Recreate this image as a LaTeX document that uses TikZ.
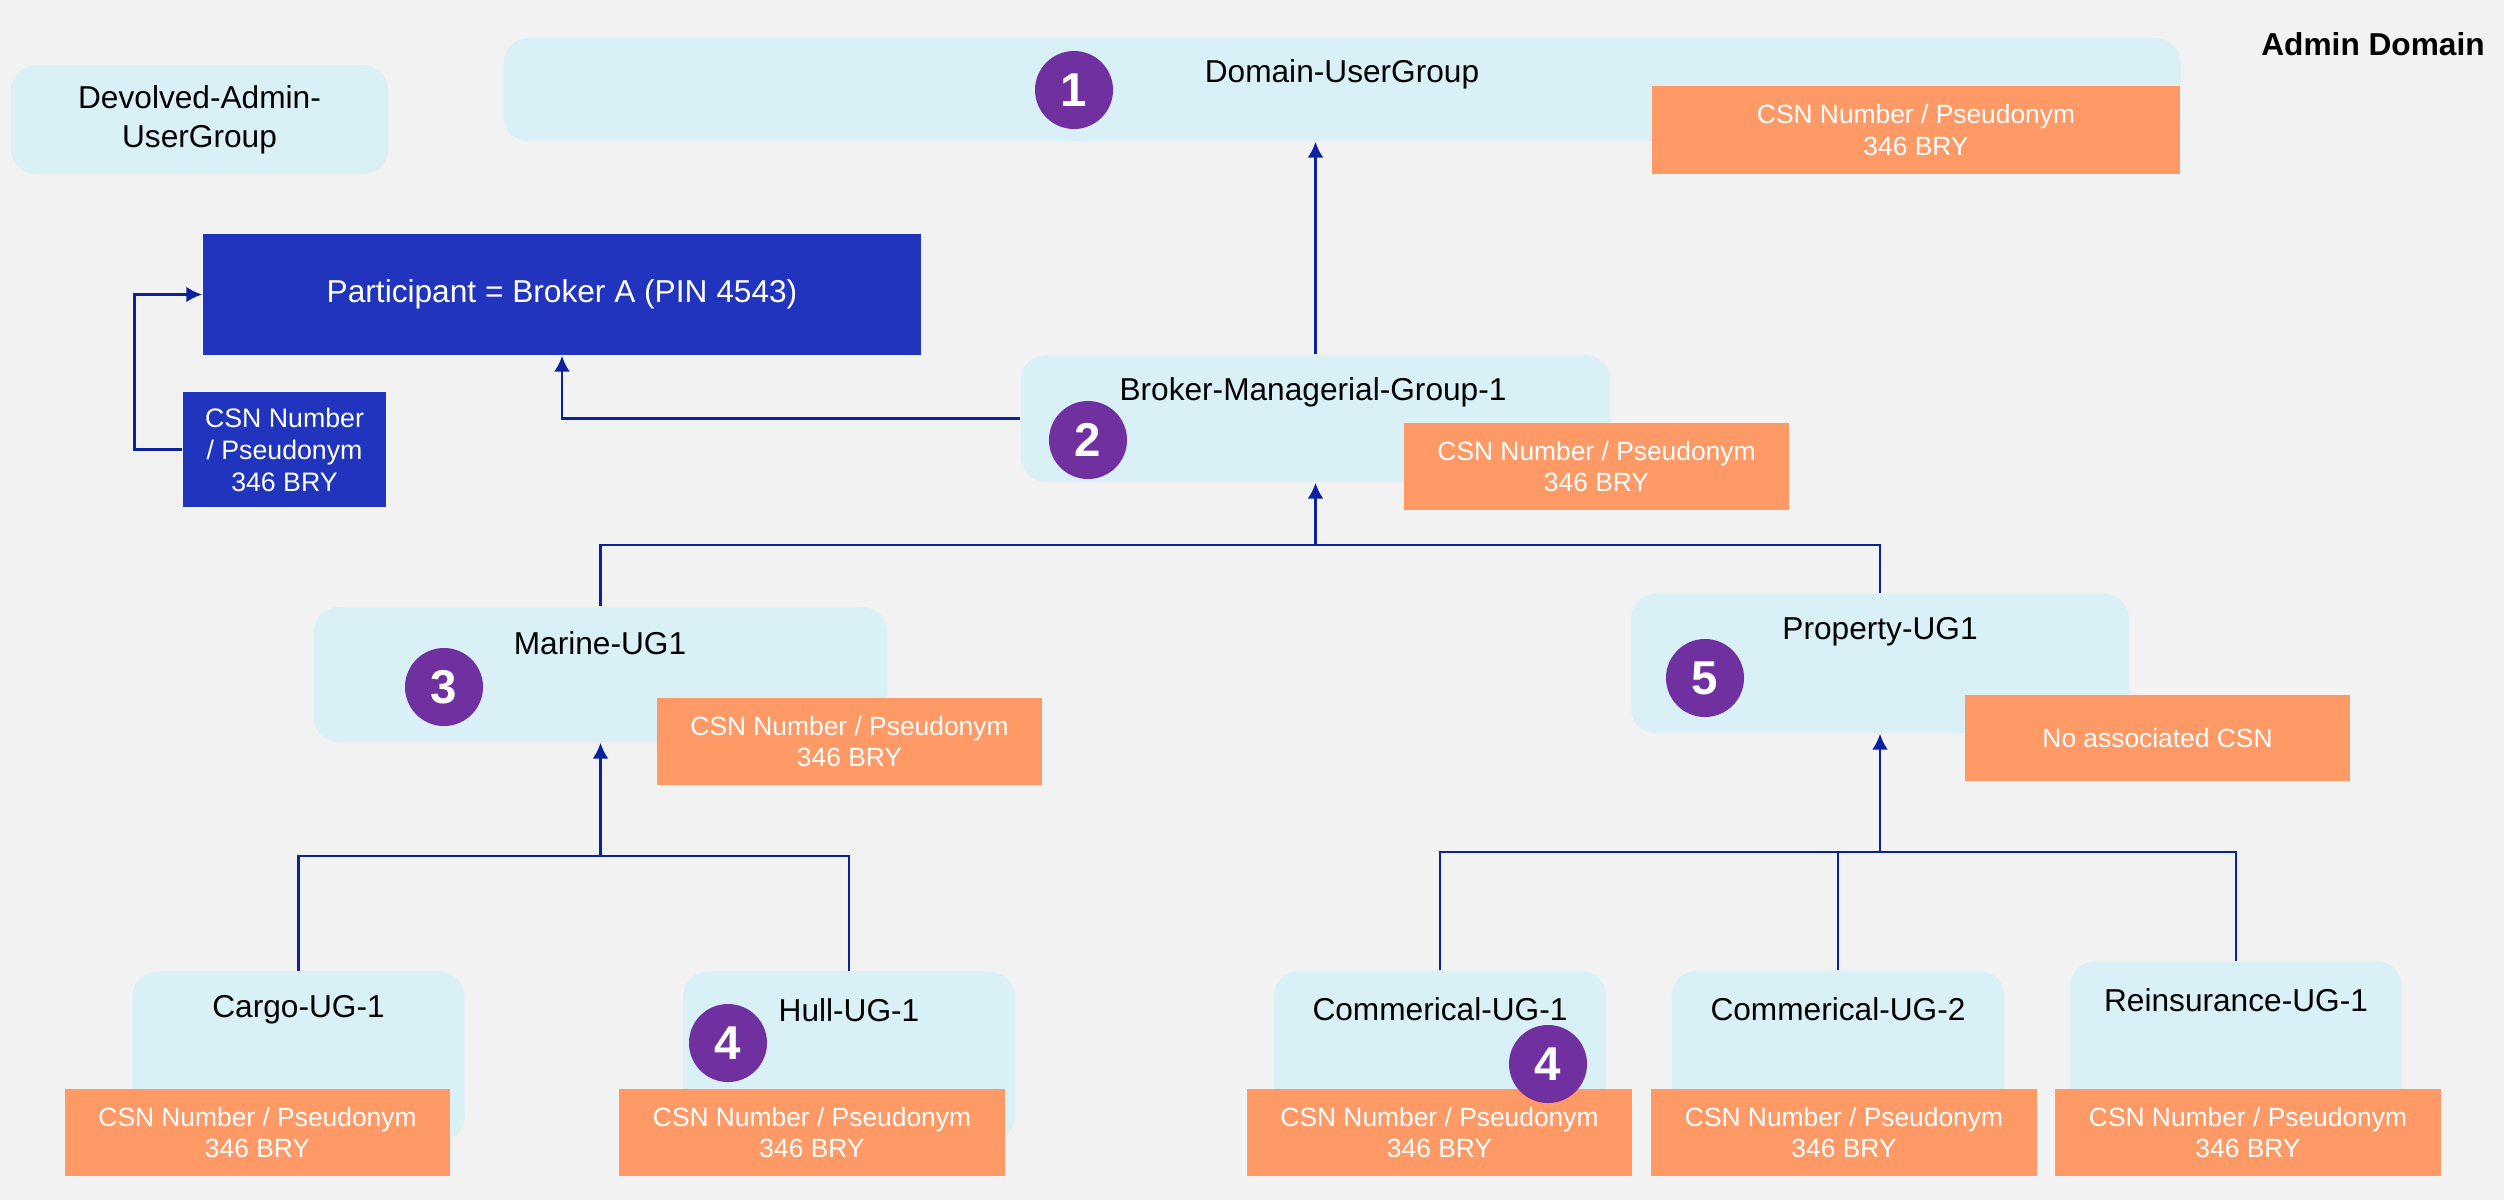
\documentclass[tikz,border=0pt]{standalone}
\usepackage{xcolor}
\usepackage{fontspec}
\setmainfont{Liberation Sans}
\usepackage{tikz}
\usetikzlibrary{calc,arrows.meta}

\definecolor{bgGrey}{RGB}{242,242,242}
\definecolor{groupCyan}{RGB}{217,240,247}
\definecolor{csnOrange}{RGB}{255,153,102}
\definecolor{badgePurple}{RGB}{112,48,160}
\definecolor{pinBlue}{RGB}{32,52,190}
\definecolor{linkBlue}{RGB}{10,34,160}

\begin{document}
\begin{tikzpicture}[x=0.01cm, y=-0.01cm, >={Latex[length=4.5pt,width=4.5pt]},
    group/.style={fill=groupCyan, rounded corners=0.25cm, inner sep=0pt},
    grouptext/.style={inner sep=0pt, align=center, font=\fontsize{9}{11.1}\selectfont},
    csn/.style={fill=csnOrange, text=white, align=center, inner sep=0pt,
        minimum width=3.85cm, minimum height=0.87cm, font=\fontsize{7.5}{8.9}\selectfont},
    pin/.style={fill=pinBlue, text=white, align=center, inner sep=0pt},
    badge/.style={circle, fill=badgePurple, text=white, minimum size=0.78cm, inner sep=0pt,
        font=\fontsize{13.5}{13.5}\selectfont\bfseries},
    link/.style={draw=linkBlue, line width=0.75pt}]

            % Background
            \fill[bgGrey] (0,0) rectangle (2504,1200);
            \node[font=\fontsize{9}{11}\selectfont\bfseries] (Admin-Domain) at (2373,44) {Admin Domain};

            % Top level groups
            \node[group, grouptext, minimum width=3.77cm, minimum height=1.09cm] (Devolved) at (199.5,119.5) {Devolved-Admin-\\UserGroup};
            \node[group, minimum width=16.76cm, minimum height=1.03cm] (Domain) at (1342,89.5) {};
            \node[grouptext] (Domain-text) at (1342,74) {Domain-UserGroup};
            \node[csn, minimum width=5.28cm, minimum height=0.88cm] (Domain-CSN) at (1916,130) {CSN Number / Pseudonym\\346 BRY};

            % Participant
            \node[pin, minimum width=7.18cm, minimum height=1.21cm, font=\fontsize{9}{11}\selectfont] (Participant) at (562,294.5) {Participant = Broker A (PIN 4543)};
            \node[pin, minimum width=2.03cm, minimum height=1.15cm, font=\fontsize{7.6}{9.1}\selectfont] (Pin-CSN) at (284.5,449.5) {CSN Number\\/ Pseudonym\\346 BRY};

            % Broker group
            \node[group, minimum width=5.89cm, minimum height=1.27cm] (Broker) at (1315.5,418.5) {};
            \node[grouptext] (Broker-text) at (1313,392) {Broker-Managerial-Group-1};
            \node[csn] (Broker-CSN) at (1596.5,466.5) {CSN Number / Pseudonym\\346 BRY};

            % Marine and Property groups
            \node[group, minimum width=5.73cm, minimum height=1.35cm] (Marine) at (600.5,674.5) {};
            \node[grouptext] (Marine-text) at (600,643) {Marine-UG1};
            \node[csn] (Marine-CSN) at (849.5,741.5) {CSN Number / Pseudonym\\346 BRY};

            \node[group, minimum width=4.98cm, minimum height=1.39cm] (Property) at (1880,663.5) {};
            \node[grouptext] (Property-text) at (1880,632) {Property-UG1};
            \node[csn, minimum height=0.86cm] (Property-CSN) at (2157.5,738) {No associated CSN};

            % Leaf groups
            \foreach \name/\x/\y/\h/\txt/\cx in {Cargo/298.5/971/1.69cm/Cargo-UG-1/257.5,
                Hull/849/971/1.69cm/Hull-UG-1/812,
                Comm1/1440/970/1.70cm/Commerical-UG-1/1439.5,
                Comm2/1838/970/1.70cm/Commerical-UG-2/1844,
                Reins/2236/961/1.79cm/Reinsurance-UG-1/2248}
            {
                \node[group, anchor=north, minimum width=3.32cm, minimum height=\h] (\name) at (\x,\y) {};
                \node[grouptext] (\name-text) at (\x,\y+39) {\txt};
                \node[csn] (\name-CSN) at (\cx,1132.5) {CSN Number / Pseudonym\\346 BRY};
            }

            % Junctions
            \coordinate (Broker-join) at (1315.5,545);
            \coordinate (Marine-join) at (600.5,856);
            \coordinate (Property-join) at (1880,852);

            % Links up the hierarchy
            \draw[link, ->] (Broker.north) -- (Broker.north |- Domain.south);
            \draw[link, ->] (Broker.west) -| (Participant.south);
            \draw[link, ->] (Pin-CSN.west) -- ++(-48,0) |- (Participant.west);

            \draw[link] (Marine.north) |- (Broker-join);
            \draw[link] (Property.north) |- (Broker-join);
            \draw[link, ->] (Broker-join) -- (Broker.south);

            \foreach \leaf in {Cargo, Hull}
            {
                \draw[link] (\leaf.north) |- (Marine-join);
            }
            \draw[link, ->] (Marine-join) -- (Marine.south);

            \foreach \leaf in {Comm1, Comm2, Reins}
            {
                \draw[link] (\leaf.north) |- (Property-join);
            }
            \draw[link, ->] (Property-join) -- (Property.south);

            % Numbered badges
            \foreach \id/\n/\x/\y in {1/1/1074/90, 2/2/1088/440, 3/3/444/687, 4a/4/728/1043, 4b/4/1548/1064, 5/5/1705/678}
            {
                \node[badge] (Badge-\id) at (\x,\y) {\n};
            }

\end{tikzpicture}
\end{document}
